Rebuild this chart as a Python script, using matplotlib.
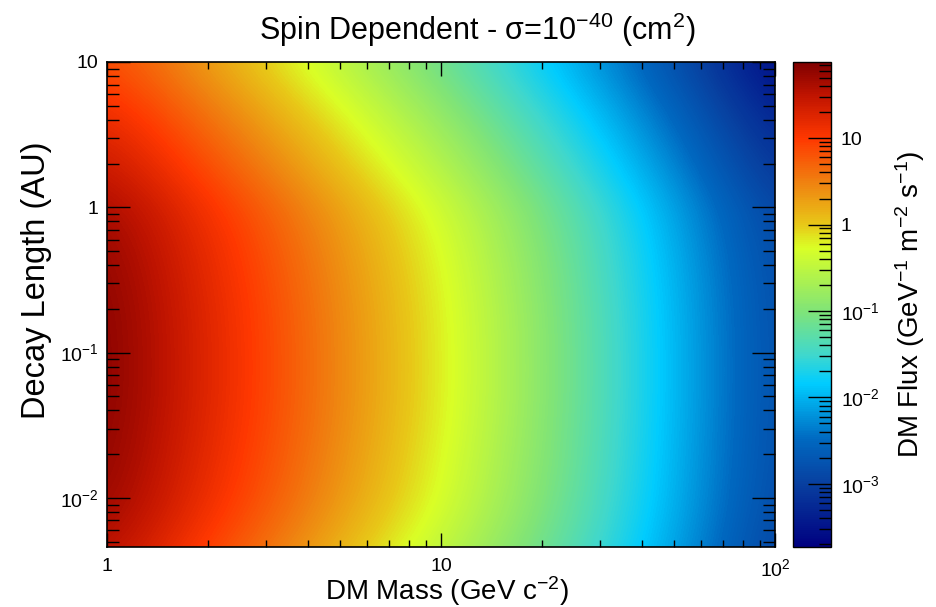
"""
DM flux map: decay length vs DM mass (spin dependent)
"""

import numpy as np
import matplotlib
matplotlib.use('Agg')
import matplotlib.pyplot as plt
from matplotlib.colors import LinearSegmentedColormap, Normalize, LogNorm
from matplotlib.ticker import FuncFormatter, LogLocator, NullFormatter
import matplotlib.cm as cm

plt.rcParams['font.family'] = ['Liberation Sans', 'DejaVu Sans']
plt.rcParams['mathtext.fontset'] = 'custom'
plt.rcParams['mathtext.rm'] = 'Liberation Sans'
plt.rcParams['mathtext.it'] = 'Liberation Sans:italic'
plt.rcParams['mathtext.sf'] = 'Liberation Sans'

# grid nodes (log10 units)
mass_log = [0.0, 0.25, 0.5, 0.75, 1.0, 1.25, 1.5, 1.75, 2.0]
length_log = [-2.5, -2.25, -2.0, -1.75, -1.5, -1.25, -1.0, -0.75,
              -0.5, -0.25, 0.0, 0.25, 0.5, 0.75, 1.0]

# log10 flux, one row per decay length (bottom -> top)
flux_log = [
    [1.51, 0.95, 0.46, -0.06, -0.56, -1.08, -1.62, -2.28, -3.01],
    [1.65, 1.11, 0.62, 0.10, -0.41, -0.96, -1.53, -2.21, -2.95],
    [1.75, 1.23, 0.74, 0.22, -0.29, -0.87, -1.47, -2.15, -2.90],
    [1.80, 1.29, 0.80, 0.28, -0.24, -0.83, -1.43, -2.13, -2.87],
    [1.83, 1.33, 0.84, 0.32, -0.20, -0.80, -1.41, -2.11, -2.86],
    [1.85, 1.35, 0.86, 0.34, -0.18, -0.78, -1.40, -2.10, -2.85],
    [1.85, 1.35, 0.86, 0.34, -0.18, -0.78, -1.40, -2.10, -2.85],
    [1.84, 1.34, 0.85, 0.33, -0.19, -0.79, -1.41, -2.11, -2.86],
    [1.81, 1.31, 0.82, 0.30, -0.22, -0.82, -1.44, -2.13, -2.88],
    [1.76, 1.26, 0.77, 0.25, -0.27, -0.87, -1.48, -2.18, -2.92],
    [1.67, 1.17, 0.68, 0.16, -0.36, -0.95, -1.56, -2.25, -2.99],
    [1.48, 0.98, 0.49, -0.03, -0.55, -1.13, -1.73, -2.41, -3.15],
    [1.30, 0.80, 0.31, -0.21, -0.73, -1.30, -1.90, -2.57, -3.29],
    [1.10, 0.60, 0.11, -0.41, -0.93, -1.49, -2.08, -2.74, -3.45],
    [0.90, 0.40, -0.09, -0.61, -1.13, -1.68, -2.26, -2.91, -3.61],
]

mass_min, mass_max = 1, 100
length_min, length_max = 0.00459, 10
zlog_min, zlog_max = -3.73, 1.88

# palette sampled from the colour bar
pal_pos = [0.0, 0.13, 0.22, 0.308, 0.336, 0.397, 0.486, 0.617, 0.665,
           0.754, 0.843, 0.932, 1.0]
pal_col = ['#000080', '#0840a0', '#0068c0', '#00b4f0', '#00ccff',
           '#40d8cc', '#80e478', '#daff26', '#e8c818', '#f08010',
           '#ff3800', '#c01400', '#800000']
cmap = LinearSegmentedColormap.from_list('root', list(zip(pal_pos, pal_col)))


def log_label(v, pos):
    if np.isclose(v, 1):
        return '1'
    if np.isclose(v, 10):
        return '10'
    return r'$10^{%d}$' % int(round(np.log10(v)))


fig = plt.figure(figsize=(9.37, 6.07), dpi=100)
rect = [107/937, 60/607, 668/937, 485/607]

# image drawn in log10 units underneath
ax_img = fig.add_axes(rect)
dx = mass_log[1] - mass_log[0]
dy = length_log[1] - length_log[0]
ax_img.imshow(np.array(flux_log), origin='lower', aspect='auto', cmap=cmap,
              norm=Normalize(zlog_min, zlog_max), interpolation='bicubic',
              interpolation_stage='data',
              extent=(mass_log[0]-dx/2, mass_log[-1]+dx/2,
                      length_log[0]-dy/2, length_log[-1]+dy/2))
ax_img.set_xlim(np.log10(mass_min), np.log10(mass_max))
ax_img.set_ylim(np.log10(length_min), np.log10(length_max))
ax_img.axis('off')

# log axes on top for ticks and labels
ax = fig.add_axes(rect)
ax.patch.set_visible(False)
ax.set_xscale('log')
ax.set_yscale('log')
ax.set_xlim(mass_min, mass_max)
ax.set_ylim(length_min, length_max)
for a in (ax.xaxis, ax.yaxis):
    a.set_major_locator(LogLocator(base=10, numticks=20))
    a.set_minor_locator(LogLocator(base=10, subs=np.arange(2, 10), numticks=20))
    a.set_major_formatter(FuncFormatter(log_label))
    a.set_minor_formatter(NullFormatter())
ax.tick_params(axis='x', which='major', direction='in', length=10, width=1,
               top=True, pad=8, labelsize=14)
ax.tick_params(axis='x', which='minor', direction='in', length=5, width=1, top=True)
ax.tick_params(axis='y', which='major', direction='in', length=16.5, width=1,
               right=True, pad=6, labelsize=14)
ax.tick_params(axis='y', which='minor', direction='in', length=8.5, width=1, right=True)
for s in ax.spines.values():
    s.set_linewidth(1.2)

ax.set_xlabel(r'DM Mass (GeV c$^{-2}$)', fontsize=20)
ax.xaxis.set_label_coords(0.509, -0.056)
ax.set_ylabel('Decay Length (AU)', fontsize=23.5)
ax.yaxis.set_label_coords(-0.082, 0.549)

fig.text(0.509, 0.951, r'Spin Dependent - σ=10$^{-40}$ (cm$^{2}$)',
         ha='center', va='center', fontsize=22)

# colour bar
cax = fig.add_axes([793/937, 60/607, 38/937, 485/607])
sm = cm.ScalarMappable(norm=LogNorm(10**zlog_min, 10**zlog_max), cmap=cmap)
cb = fig.colorbar(sm, cax=cax)
cb.outline.set_linewidth(1.0)
cax.yaxis.set_major_locator(LogLocator(base=10, numticks=20))
cax.yaxis.set_minor_locator(LogLocator(base=10, subs=np.arange(2, 10), numticks=20))
cax.yaxis.set_major_formatter(FuncFormatter(log_label))
cax.yaxis.set_minor_formatter(NullFormatter())
cax.tick_params(which='major', direction='in', length=16.5, width=1, pad=7,
                labelsize=14)
cax.tick_params(which='minor', direction='in', length=8.5, width=1)
cb.set_label(r'DM Flux (GeV$^{-1}$ m$^{-2}$ s$^{-1}$)', fontsize=20, labelpad=10)

plt.savefig('out.png', dpi=100)
